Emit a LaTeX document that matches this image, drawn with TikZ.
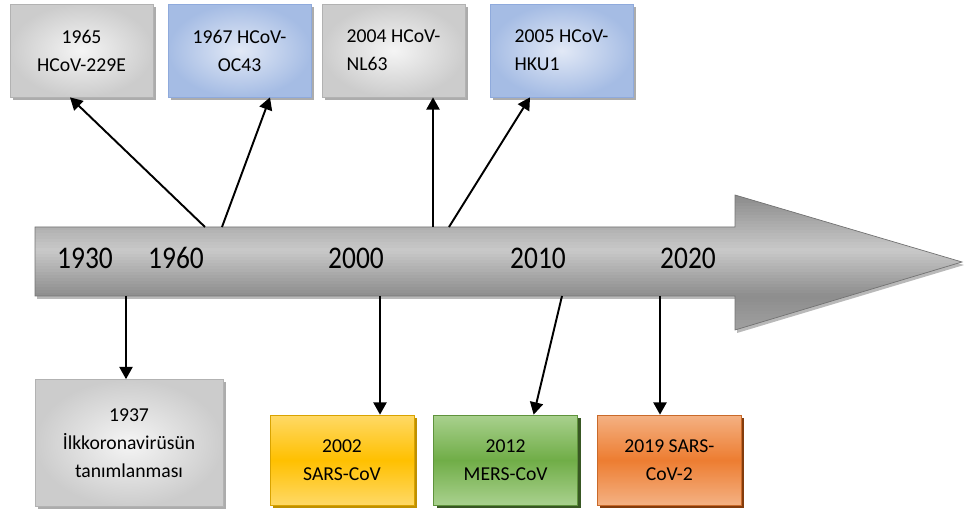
\documentclass[tikz,border=0pt]{standalone}
\usepackage{fontspec}
\setmainfont{Carlito}
\usetikzlibrary{positioning,shapes,shadows,arrows,arrows.meta}
\definecolor{blueedge}{RGB}{143,170,220}
\definecolor{bluein}{RGB}{226,233,246}
\definecolor{blueout}{RGB}{165,188,228}
\definecolor{yellowmid}{RGB}{255,192,0}
\definecolor{yellowlight}{RGB}{255,217,102}
\definecolor{yellowdark}{RGB}{191,144,0}
\definecolor{greenmid}{RGB}{112,173,71}
\definecolor{greenlight}{RGB}{169,209,142}
\definecolor{greendark}{RGB}{56,87,35}
\definecolor{orangemid}{RGB}{237,125,49}
\definecolor{orangelight}{RGB}{244,177,131}
\definecolor{orangedark}{RGB}{132,60,12}
\tikzstyle{arrow} = [line width=1.1pt,->,>={Triangle[length=7pt,width=7.5pt]}]
\tikzstyle{block} = [draw, rectangle, align=center,
    font=\fontsize{11.2}{16}\selectfont,
    minimum height=1.86cm, minimum width=2.86cm]
\tikzstyle{graybox} = [block, draw=gray!60, inner color=gray!8, outer color=gray!40,
    general shadow={fill=gray!65, shadow xshift=1.7pt, shadow yshift=-1.7pt}]
\tikzstyle{bluebox} = [block, draw=blueedge, inner color=bluein, outer color=blueout,
    general shadow={fill=gray!65, shadow xshift=1.7pt, shadow yshift=-1.7pt}]
\tikzstyle{lowbox} = [block, minimum height=1.8cm, minimum width=2.88cm]
\tikzstyle{yearlabel} = [font=\fontsize{15.6}{18}\selectfont, yscale=1.15, transform shape]
\def\timelinepath{(35,227) -- (735,227) -- (735,195) -- (962,262) -- (735,330)
        -- (735,296) -- (35,296) -- cycle}

\begin{document}
\begin{tikzpicture}[x=0.02cm, y=-0.02cm, node distance=0.38cm]
    \useasboundingbox (0,0) rectangle (964,513);
    % time line arrow, shaded in strips
    \fill [gray!55, shift={(2,3)}] \timelinepath;
    \begin{scope}
    \clip \timelinepath;
    \foreach \i in {0,...,45} {
        \pgfmathsetmacro{\yy}{195.5+3*\i}
        \pgfmathsetmacro{\shadeval}{int(\yy<250 ? 43+(250-\yy)*49/55 :
            (\yy<296 ? 43+(\yy-250)*47/46 : 90-(\yy-296)*15/34))}
        \fill [gray!\shadeval] (30,194+3*\i) rectangle (965,198+3*\i);
    }
    \end{scope}
    \draw [black!55] \timelinepath;
    \node [yearlabel] (y1930) at (85,258) {1930};
    \node [yearlabel] (y1960) at (176,258) {1960};
    \node [yearlabel] (y2000) at (356,258) {2000};
    \node [yearlabel] (y2010) at (538,258) {2010};
    \node [yearlabel] (y2020) at (688,258) {2020};

    % upper boxes
    \node [graybox] (b229e) at (81.5,50.5) {1965\\HCoV-229E};
    \node [bluebox] (boc43) at (239.5,50.5) {1967 HCoV-\\OC43};
    \node [graybox, align=left] (bnl63) at (393.5,50.5) {2004 HCoV-\\NL63};
    \node [bluebox, align=left] (bhku1) at (561.5,50.5) {2005 HCoV-\\HKU1};

    % lower boxes
    \node [graybox, minimum width=3.76cm, minimum height=2.54cm] (b1937) at (129,443)
        {1937\\İlkkoronavirüsün\\tanımlanması};
    \node [lowbox, draw=yellowmid!85!black, top color=yellowlight, bottom color=yellowlight,
        middle color=yellowmid,
        general shadow={fill=yellowdark, shadow xshift=1.7pt, shadow yshift=-1.7pt}]
        (bsars) at (342,460) {2002\\SARS-CoV};
    \node [lowbox, draw=greenmid!85!black, top color=greenlight, bottom color=greenlight,
        middle color=greenmid,
        general shadow={fill=greendark, shadow xshift=1.7pt, shadow yshift=-1.7pt},
        right=of bsars] (bmers) {2012\\MERS-CoV};
    \node [lowbox, draw=orangemid!85!black, top color=orangelight, bottom color=orangelight,
        middle color=orangemid,
        general shadow={fill=orangedark, shadow xshift=1.7pt, shadow yshift=-1.7pt},
        right=of bmers] (bsars2) {2019 SARS-\\CoV-2};

    % connectors
    \coordinate (s229e) at (205,227);
    \coordinate (soc43) at (222,227);
    \coordinate (snl63) at (433,227);
    \coordinate (shku1) at (449,227);
    \coordinate (s1937) at (126,296);
    \coordinate (ssars) at (380,296);
    \coordinate (smers) at (562,296);
    \coordinate (ssars2) at (660,296);
    \draw [arrow] (s229e) -- ([xshift=-0.23cm]b229e.south);
    \draw [arrow] (soc43) -- ([xshift=0.61cm]boc43.south);
    \draw [arrow] (snl63) -- (snl63 |- bnl63.south);
    \draw [arrow] (shku1) -- ([xshift=-0.63cm]bhku1.south);
    \draw [arrow] (s1937) -- (s1937 |- b1937.north);
    \draw [arrow] (ssars) -- (ssars |- bsars.north);
    \draw [arrow] (smers) -- ([xshift=0.56cm]bmers.north);
    \draw [arrow] (ssars2) -- (ssars2 |- bsars2.north);
\end{tikzpicture}
\end{document}
